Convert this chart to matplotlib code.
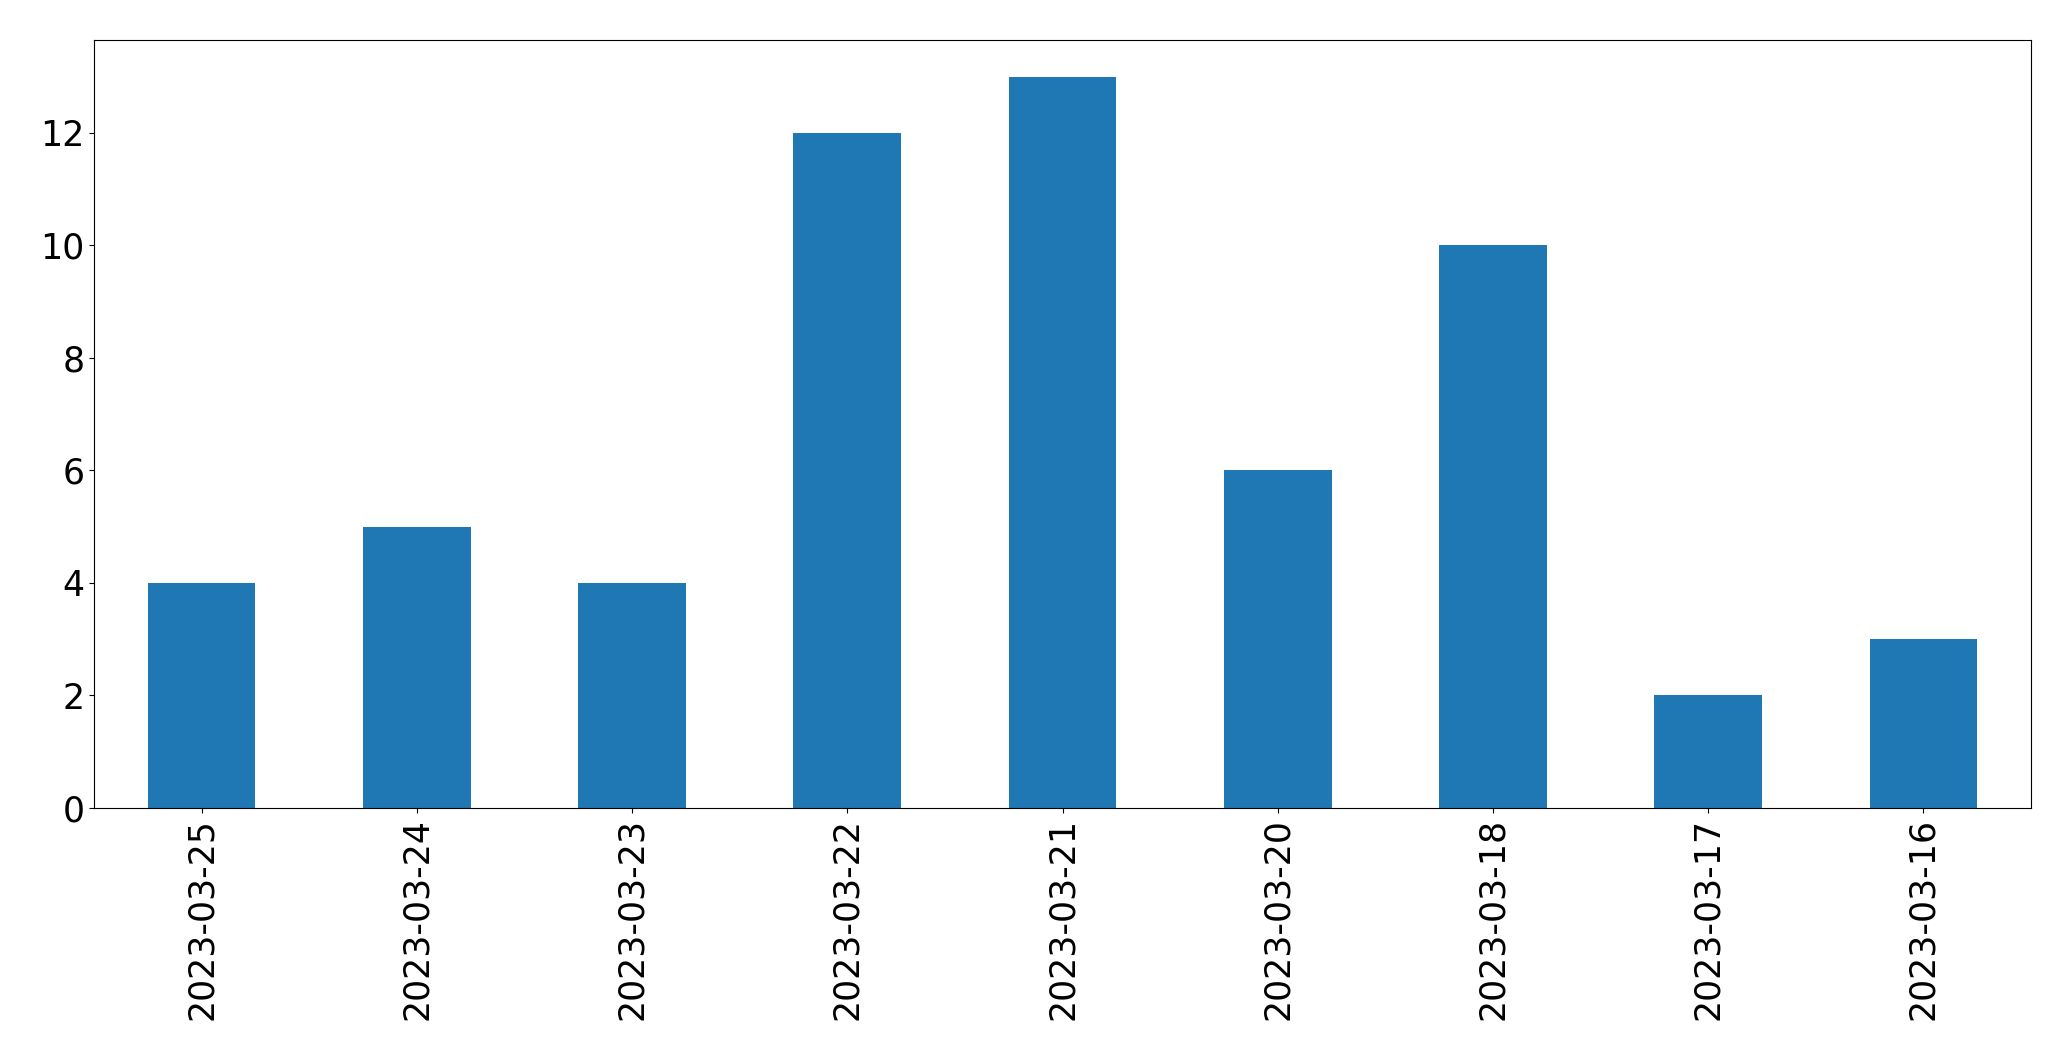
import matplotlib
matplotlib.use("Agg")
import matplotlib.pyplot as plt

dates = ["2023-03-25", "2023-03-24", "2023-03-23", "2023-03-22", "2023-03-21",
         "2023-03-20", "2023-03-18", "2023-03-17", "2023-03-16"]
counts = [4, 5, 4, 12, 13, 6, 10, 2, 3]

fig, ax = plt.subplots(figsize=(20.71, 10.61), dpi=100)
fig.subplots_adjust(left=0.0454, right=0.9807, top=0.9623, bottom=0.2385)

x = list(range(len(dates)))
ax.bar(x, counts, width=0.5, color="#1f77b4")
ax.set_xlim(-0.5, len(dates) - 0.5)
ax.set_xticks(x)
ax.set_xticklabels(dates, rotation=90)
ax.tick_params(labelsize=25)

plt.savefig("out.png")
